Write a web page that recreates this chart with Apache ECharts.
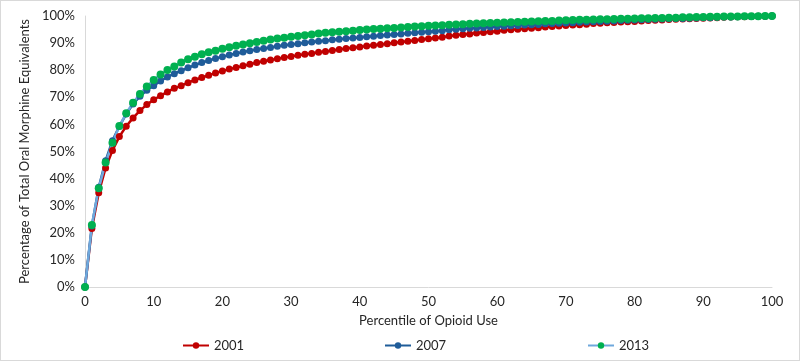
<!DOCTYPE html>
<html>
<head>
<meta charset="utf-8">
<script src="https://cdn.jsdelivr.net/npm/echarts@6/dist/echarts.min.js"></script>
<style>
  html, body { margin: 0; padding: 0; background: #fff; }
  #chart { width: 798px; height: 359px; border: 1px solid #d9d9d9; }
</style>
</head>
<body>
<div id="chart"></div>
<script>
// percentile 0..100
const percentiles = Array.from({ length: 101 }, (_, i) => i);
const seriesNames = ["2001", "2007", "2013"];
const yTickLabels = ["0%", "10%", "20%", "30%", "40%", "50%", "60%", "70%", "80%", "90%", "100%"];

const y2001 = [
  0, 21.6, 34.8, 43.9, 50.4, 55.5, 59.3, 62.4, 65.1, 67.3,
  69.1, 70.6, 72.0, 73.3, 74.3, 75.4, 76.4, 77.3, 78.1, 79.0,
  79.7, 80.4, 81.0, 81.6, 82.2, 82.8, 83.3, 83.8, 84.2, 84.7,
  85.1, 85.5, 85.9, 86.2, 86.6, 86.9, 87.3, 87.6, 88.0, 88.3,
  88.6, 88.9, 89.2, 89.5, 89.8, 90.1, 90.4, 90.7, 91.0, 91.3,
  91.6, 91.9, 92.2, 92.6, 92.9, 93.2, 93.4, 93.7, 93.9, 94.2,
  94.4, 94.7, 94.9, 95.1, 95.3, 95.5, 95.7, 95.9, 96.1, 96.3,
  96.5, 96.7, 96.8, 97.0, 97.2, 97.3, 97.5, 97.6, 97.8, 97.9,
  98.0, 98.2, 98.3, 98.4, 98.5, 98.7, 98.8, 98.9, 99.0, 99.1,
  99.2, 99.3, 99.4, 99.5, 99.6, 99.7, 99.7, 99.8, 99.9, 99.9,
  100
];

const y2007 = [
  0, 22.5, 36.8, 46.6, 54.0, 59.3, 63.8, 67.5, 70.4, 72.6,
  74.3, 76.0, 77.5, 78.7, 79.8, 80.9, 81.9, 82.8, 83.6, 84.3,
  85.0, 85.6, 86.2, 86.7, 87.2, 87.6, 88.0, 88.4, 88.8, 89.2,
  89.5, 89.8, 90.1, 90.4, 90.7, 90.9, 91.2, 91.4, 91.7, 91.9,
  92.1, 92.3, 92.5, 92.8, 93.0, 93.2, 93.4, 93.6, 93.8, 94.0,
  94.2, 94.4, 94.6, 94.9, 95.1, 95.3, 95.5, 95.6, 95.8, 95.9,
  96.1, 96.2, 96.4, 96.5, 96.7, 96.8, 96.9, 97.1, 97.2, 97.3,
  97.4, 97.5, 97.7, 97.8, 97.9, 98.0, 98.1, 98.2, 98.3, 98.4,
  98.5, 98.6, 98.7, 98.8, 98.9, 99.0, 99.1, 99.1, 99.2, 99.3,
  99.4, 99.4, 99.5, 99.6, 99.6, 99.7, 99.8, 99.8, 99.9, 99.9,
  100
];

const y2013 = [
  0, 22.9, 36.4, 45.9, 53.2, 59.4, 64.1, 68.0, 71.2, 74.0,
  76.4, 78.4, 80.1, 81.4, 82.8, 84.0, 85.0, 85.9, 86.6, 87.2,
  87.9, 88.5, 89.0, 89.5, 89.9, 90.4, 90.9, 91.3, 91.7, 92.0,
  92.3, 92.6, 92.9, 93.2, 93.5, 93.8, 94.0, 94.2, 94.4, 94.6,
  94.8, 95.0, 95.2, 95.3, 95.5, 95.6, 95.8, 95.9, 96.1, 96.2,
  96.4, 96.5, 96.6, 96.8, 96.9, 97.0, 97.1, 97.2, 97.3, 97.4,
  97.5, 97.6, 97.7, 97.8, 97.9, 98.0, 98.1, 98.2, 98.2, 98.3,
  98.4, 98.5, 98.6, 98.6, 98.7, 98.8, 98.8, 98.9, 99.0, 99.0,
  99.1, 99.2, 99.2, 99.3, 99.3, 99.4, 99.4, 99.5, 99.5, 99.6,
  99.6, 99.7, 99.7, 99.8, 99.8, 99.8, 99.9, 99.9, 99.9, 100,
  100
];

const font = "Lato, 'Liberation Sans', sans-serif";
const textColor = "#262626";

function pairs(ys) {
  return percentiles.map((p, i) => [p, ys[i]]);
}

function legendAt(left, name) {
  return {
    data: [name],
    left: left,
    top: 333,
    itemWidth: 26,
    itemHeight: 8,
    itemGap: 5,
    textStyle: { fontFamily: font, fontSize: 13, color: textColor },
  };
}

const myChart = echarts.init(document.getElementById("chart"));
myChart.setOption({
  animation: false,
  textStyle: { fontFamily: font },
  grid: { left: 84, right: 27, top: 15, bottom: 73 },
  legend: [legendAt(176, "2001"), legendAt(378, "2007"), legendAt(581, "2013")],
  xAxis: {
    type: "value",
    min: 0,
    max: 100,
    interval: 10,
    name: "Percentile of Opioid Use",
    nameLocation: "middle",
    nameGap: 27,
    nameTextStyle: { fontFamily: font, fontSize: 13, color: textColor },
    axisLine: { lineStyle: { color: "#d9d9d9", width: 1 } },
    axisTick: { show: false },
    splitLine: { show: false },
    axisLabel: { fontFamily: font, fontSize: 13, color: textColor, margin: 8 },
  },
  yAxis: {
    type: "value",
    min: 0,
    max: 100,
    interval: 10,
    name: "Percentage of Total Oral Morphine Equivalents",
    nameLocation: "middle",
    nameGap: 52,
    nameTextStyle: { fontFamily: font, fontSize: 13, color: textColor },
    axisLine: { show: true, lineStyle: { color: "#d9d9d9", width: 1 } },
    axisTick: { show: false },
    splitLine: { show: false },
    axisLabel: {
      fontFamily: font,
      fontSize: 13,
      color: textColor,
      margin: 10,
      formatter: (v) => yTickLabels[Math.round(v / 10)],
    },
  },
  series: [
    {
      name: seriesNames[0],
      type: "line",
      data: pairs(y2001),
      symbol: "circle",
      symbolSize: 7,
      lineStyle: { color: "#c00000", width: 2.5 },
      itemStyle: { color: "#c00000" },
    },
    {
      name: seriesNames[1],
      type: "line",
      data: pairs(y2007),
      symbol: "circle",
      symbolSize: 7,
      lineStyle: { color: "#1f5c99", width: 2.5 },
      itemStyle: { color: "#1f5c99" },
    },
    {
      name: seriesNames[2],
      type: "line",
      data: pairs(y2013),
      symbol: "circle",
      symbolSize: 8,
      lineStyle: { color: "#6fa8dc", width: 2.5 },
      itemStyle: { color: "#00b050" },
    },
  ],
});
</script>
</body>
</html>
